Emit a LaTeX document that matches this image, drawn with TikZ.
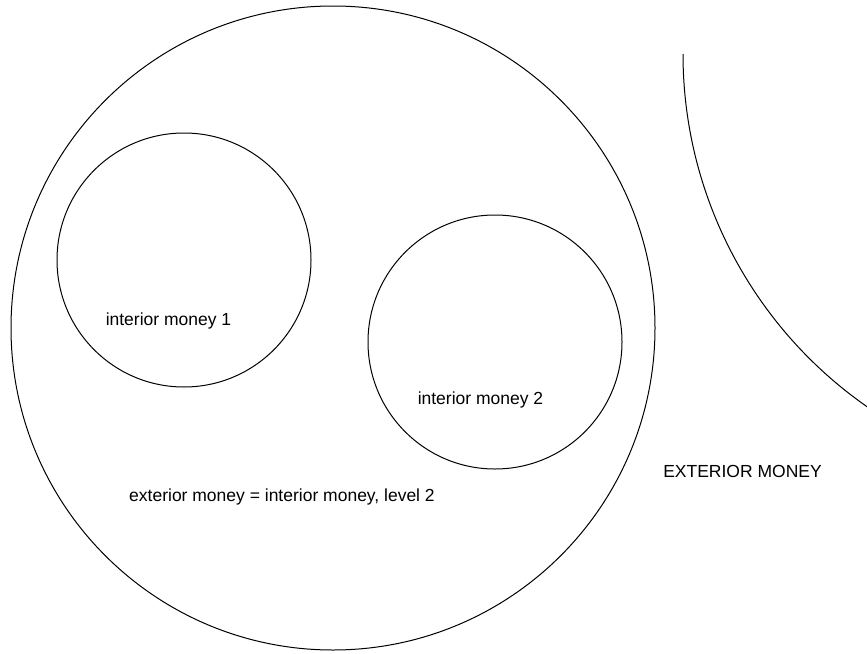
\documentclass[tikz,border=0pt]{standalone}
\usepackage{fontspec}
\setmainfont{Liberation Sans}
\begin{document}
\begin{tikzpicture}[x=1pt,y=-1pt,
  ring/.style={circle,draw,line width=1pt,inner sep=0pt,outer sep=0pt,minimum size=#1},
  label/.style={font=\fontsize{17.5}{21}\selectfont,inner sep=0pt,anchor=base}]
  \useasboundingbox (0,0) rectangle (867,653);
  % outer region and the two inner regions
  \node[ring=644pt] (outer) at (333,328) {};
  \node[ring=254pt] (inner1) at (184,260) {};
  \node[ring=254pt] (inner2) at (495,342) {};
  % boundary of the exterior region, cut by the page edge
  \begin{scope}
    \clip (0,0) rectangle (867,653);
    \draw[line width=1pt] (683,54) arc[start angle=180,end angle=124,radius=430];
  \end{scope}
  % labels
  \node[label] (t1) at (168.5,325) {interior money 1};
  \node[label] (t2) at (480.5,404) {interior money 2};
  \node[label] (t3) at (282,501) {exterior money = interior money, level 2};
  \node[label] (t4) at (742.5,477) {EXTERIOR MONEY};
\end{tikzpicture}
\end{document}
